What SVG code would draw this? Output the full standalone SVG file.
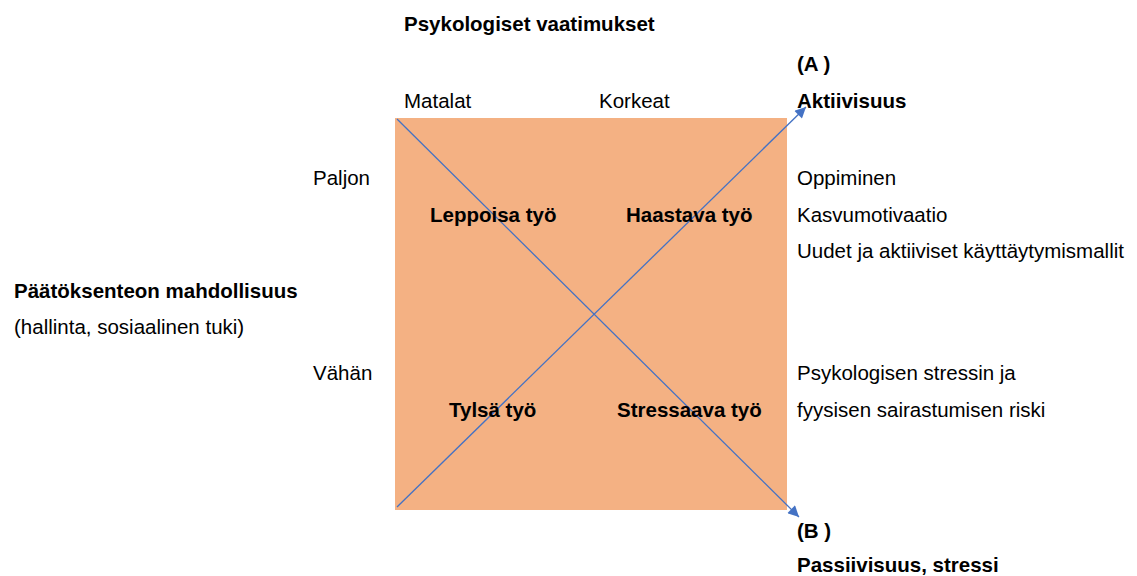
<svg xmlns="http://www.w3.org/2000/svg" width="1137" height="576" viewBox="0 0 1137 576">
<style>
text{font-family:"Liberation Sans",Arial,sans-serif;font-size:20.5px;fill:#000}
.b{font-weight:bold}
.c{stroke:#4472C4;stroke-width:1.3;fill:none}
</style>
<defs>
<marker id="ah" viewBox="0 0 10 10" refX="10" refY="5" markerWidth="12" markerHeight="11" markerUnits="userSpaceOnUse" orient="auto"><path d="M0,0L10,5L0,10z" fill="#4472C4"/></marker>
</defs>
<rect width="1137" height="576" fill="#fff"/>
<g id="square"><rect x="395" y="118" width="392" height="392" fill="#F4B183"/></g>
<g id="connectors">
<line class="c" x1="397" y1="119" x2="799" y2="517" marker-end="url(#ah)"/>
<line class="c" x1="397" y1="507" x2="806" y2="107" marker-end="url(#ah)"/>
</g>
<g id="labels">
<text class="b" x="404" y="31">Psykologiset vaatimukset</text>
<text x="404" y="108">Matalat</text>
<text x="599" y="108">Korkeat</text>
<text x="313" y="185">Paljon</text>
<text x="313" y="380">Vähän</text>
<text class="b" x="14" y="298">Päätöksenteon mahdollisuus</text>
<text x="14" y="334">(hallinta, sosiaalinen tuki)</text>
</g>
<g id="q1"><text class="b" x="430" y="222">Leppoisa työ</text></g>
<g id="q2"><text class="b" x="626" y="222">Haastava työ</text></g>
<g id="q3"><text class="b" x="449" y="417">Tylsä työ</text></g>
<g id="q4"><text class="b" x="617" y="417">Stressaava työ</text></g>
<g id="A">
<text class="b" x="797" y="71">(A )</text>
<text class="b" x="797" y="108">Aktiivisuus</text>
<text x="797" y="185">Oppiminen</text>
<text x="797" y="222">Kasvumotivaatio</text>
<text x="797" y="258">Uudet ja aktiiviset käyttäytymismallit</text>
</g>
<g id="B">
<text x="797" y="380">Psykologisen stressin ja</text>
<text x="797" y="417">fyysisen sairastumisen riski</text>
<text class="b" x="797" y="538">(B )</text>
<text class="b" x="797" y="572">Passiivisuus, stressi</text>
</g>
</svg>
